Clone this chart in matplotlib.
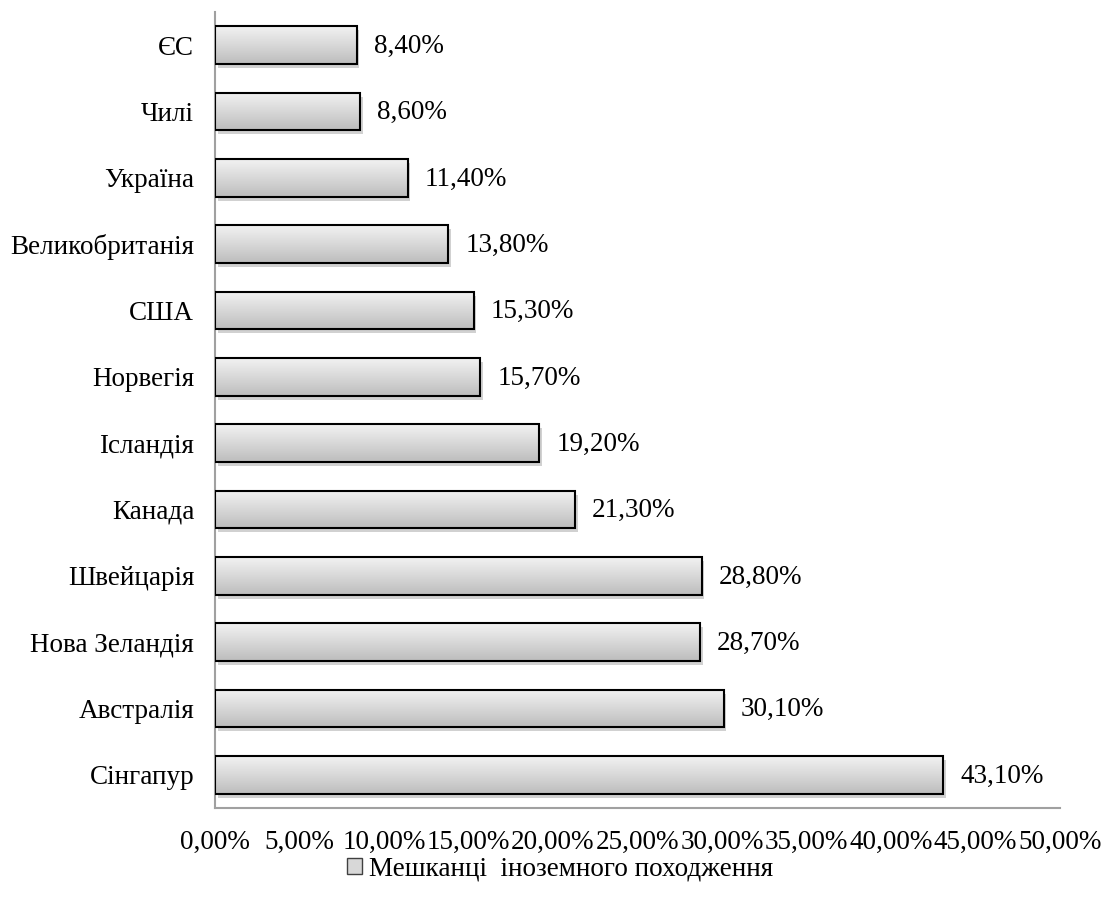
import matplotlib
matplotlib.use("Agg")
import matplotlib.pyplot as plt
import matplotlib.ticker as ticker
import numpy as np
from matplotlib.patches import Rectangle

# Data (top to bottom as in the picture)
countries = ['ЄС', 'Чилі', 'Україна', 'Великобританія', 'США', 'Норвегія',
             'Ісландія', 'Канада', 'Швейцарія', 'Нова Зеландія', 'Австралія', 'Сінгапур']
values = [8.4, 8.6, 11.4, 13.8, 15.3, 15.7, 19.2, 21.3, 28.8, 28.7, 30.1, 43.1]
legend_label = 'Мешканці  іноземного походження'

plt.rcParams['font.family'] = ['Liberation Serif', 'DejaVu Serif']
FS = 19.5

fig = plt.figure(figsize=(11.04, 9.07), dpi=100)
ax = fig.add_axes([215 / 1104, 1 - 808 / 907, (1060 - 215) / 1104, (808 - 12) / 907])

n = len(countries)
ypos = np.arange(n)
bar_h = 0.57

# vertical gradient for bar fill
grad = np.linspace(0, 1, 64).reshape(-1, 1)
cmap = matplotlib.colors.LinearSegmentedColormap.from_list(
    'g', ['#f2f2f2', '#d8d8d8', '#bdbdbd'])

bars = ax.barh(ypos, values, height=bar_h, color='none', edgecolor='black',
               linewidth=1.5, zorder=3)
for b in bars:
    x0, y0 = b.get_x(), b.get_y()
    w, h = b.get_width(), b.get_height()
    # shadow
    ax.add_patch(Rectangle((x0 + 0.15, y0 + 0.06), w, h, facecolor='#000000',
                           alpha=0.18, edgecolor='none', zorder=1))
    im = ax.imshow(grad, cmap=cmap, aspect='auto', extent=(x0, x0 + w, y0 + h, y0),
                   zorder=2)
    clip = Rectangle((x0, y0), w, h, transform=ax.transData)
    im.set_clip_path(clip)

for y, v in zip(ypos, values):
    ax.text(v + 1.0, y + 0.02, f'{v:.2f}%'.replace('.', ','), va='center', ha='left',
            fontsize=FS)

ax.set_xlim(0, 50)
ax.set_ylim(n - 0.5, -0.5)
ax.set_yticks(ypos)
ax.set_yticklabels(countries, fontsize=FS)
ax.set_xticks(np.arange(0, 51, 5))
ax.xaxis.set_major_formatter(ticker.FuncFormatter(lambda x, p: f'{x:.2f}%'.replace('.', ',')))
ax.tick_params(axis='x', labelsize=FS, length=0, pad=16)
ax.tick_params(axis='y', length=0, pad=15)

for s in ['top', 'right']:
    ax.spines[s].set_visible(False)
ax.spines['left'].set_color('#a0a0a0')
ax.spines['bottom'].set_color('#a0a0a0')
ax.spines['left'].set_linewidth(1.5)
ax.spines['bottom'].set_linewidth(1.5)

# legend
handle = Rectangle((0, 0), 1, 1, facecolor='#d8d8d8', edgecolor='#404040', linewidth=1)
fig.legend([handle], [legend_label], loc='center', bbox_to_anchor=(560 / 1104, 1 - 869 / 907),
           frameon=False, fontsize=FS, handlelength=0.55, handleheight=0.55, handletextpad=0.25)

plt.savefig('out.png', dpi=100)
